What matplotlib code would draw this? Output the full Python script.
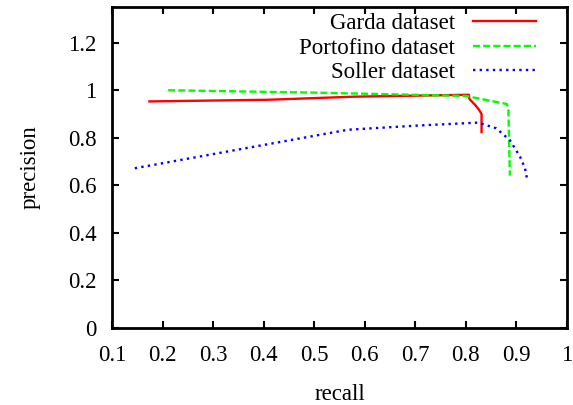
import matplotlib
matplotlib.use("Agg")
import matplotlib.pyplot as plt
from matplotlib.ticker import FuncFormatter, MultipleLocator

# precision / recall curves
garda_recall = [0.174, 0.41, 0.58, 0.806, 0.807, 0.818, 0.826, 0.831, 0.831]
garda_precision = [0.953, 0.96, 0.973, 0.981, 0.963, 0.939, 0.918, 0.90, 0.824]

portofino_recall = [0.211, 0.50, 0.80, 0.881, 0.884, 0.887]
portofino_precision = [1.0, 0.99, 0.976, 0.942, 0.925, 0.641]

soller_recall = [0.145, 0.567, 0.709, 0.824, 0.86, 0.887, 0.907, 0.917, 0.921]
soller_precision = [0.672, 0.834, 0.852, 0.864, 0.84, 0.79, 0.721, 0.672, 0.627]

plt.rcParams["font.family"] = ["Liberation Serif", "DejaVu Serif"]
plt.rcParams["font.size"] = 16.5

fig = plt.figure(figsize=(5.73, 4.05), dpi=100)
ax = fig.add_axes([0.1955, 0.19, 0.794, 0.7927])

ax.plot(garda_recall, garda_precision, color="#ff0000", lw=1.7,
        label="Garda dataset")
ax.plot(portofino_recall, portofino_precision, color="#00ff00", lw=1.7,
        linestyle=(0, (3, 1.3)), label="Portofino dataset")
ax.plot(soller_recall, soller_precision, color="#0000ff", lw=1.7,
        linestyle=(0, (1, 1.8)), label="Soller dataset")

ax.set_xlim(0.1, 1.0)
ax.set_ylim(0, 1.35)
ax.xaxis.set_major_locator(MultipleLocator(0.1))
fmt = FuncFormatter(lambda v, p: "%g" % round(v, 2))
ax.xaxis.set_major_formatter(fmt)
ax.yaxis.set_major_formatter(fmt)
ax.set_yticks([0, 0.2, 0.4, 0.6, 0.8, 1.0, 1.2])

ax.tick_params(direction="in", length=5, width=1.5, top=True, right=True)
ax.tick_params(axis="x", pad=12)
ax.tick_params(axis="y", pad=11)
for s in ax.spines.values():
    s.set_linewidth(2)

ax.set_xlabel("recall", labelpad=13)
ax.set_ylabel("precision", labelpad=20)

ax.legend(loc="upper right", frameon=False, markerfirst=False,
          handlelength=2.75, handletextpad=0.8, borderaxespad=0,
          borderpad=0, labelspacing=0.15, bbox_to_anchor=(0.932, 0.98))

fig.savefig("out.png", dpi=100)
